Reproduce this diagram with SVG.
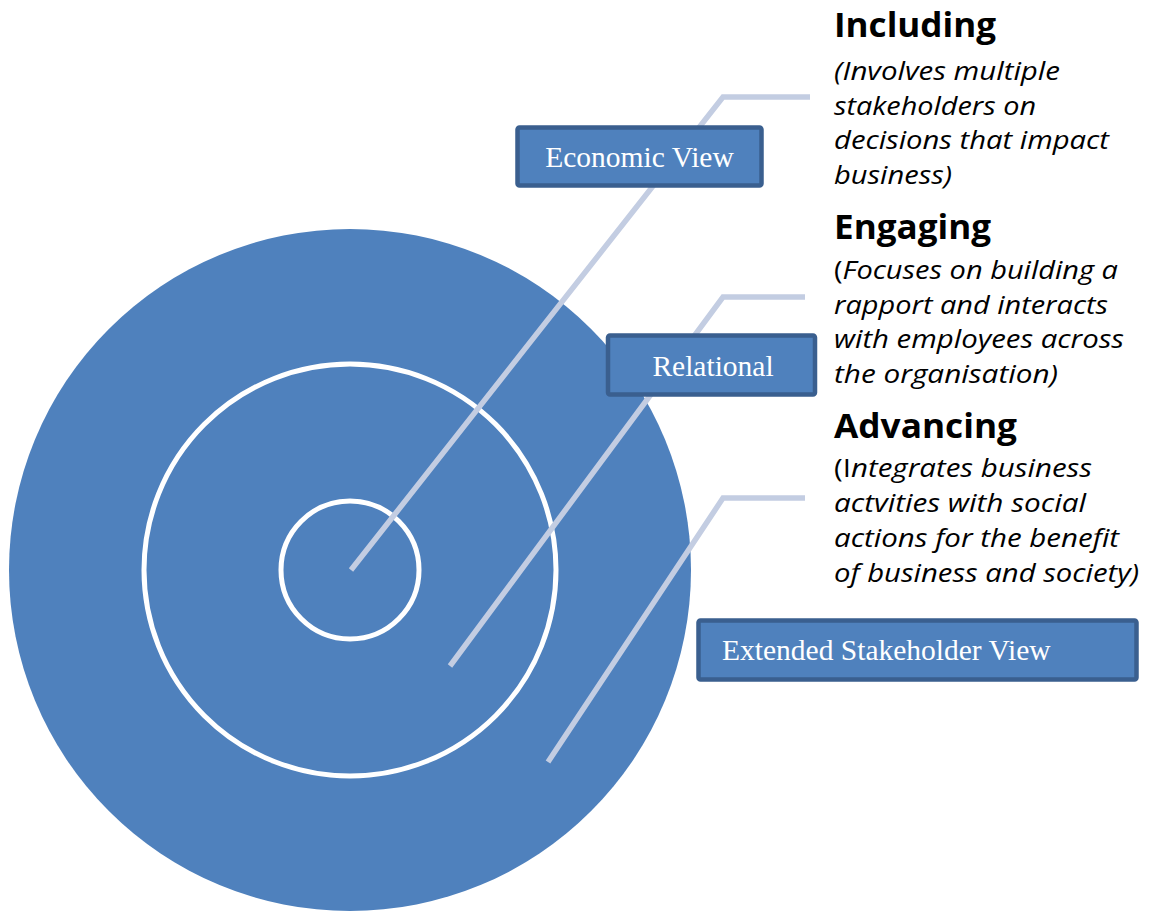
<svg xmlns="http://www.w3.org/2000/svg" width="1153" height="912" viewBox="0 0 1153 912">
<style>
.ring{fill:none;stroke:#ffffff;stroke-width:5}
.conn{fill:none;stroke:#c3cde2;stroke-width:5.5;stroke-linejoin:miter}
.box{fill:#4f81bd;stroke:#3a5f8f;stroke-width:4.5}
.blab{font-family:"Liberation Serif",serif;font-size:29.5px;fill:#ffffff}
.head{font-family:"Open Sans","Noto Sans",sans-serif;font-weight:bold;font-size:34px;fill:#000000}
.desc{font-family:"Open Sans","Noto Sans",sans-serif;font-style:italic;font-size:26px;fill:#000000}
.up{font-style:normal}
</style>
<g id="circles">
<circle cx="350" cy="570" r="341" fill="#4f81bd"/>
<circle class="ring" cx="350" cy="570" r="206"/>
<circle class="ring" cx="350" cy="570" r="69"/>
</g>
<g id="connectors">
<polyline class="conn" points="351,570 723,97 810,97"/>
<polyline class="conn" points="450,666 723,297 805,297"/>
<polyline class="conn" points="548,762 723,498 805,498"/>
</g>
<g id="economic-view">
<rect class="box" x="517.5" y="127.5" width="244" height="58" rx="2"/>
<text class="blab" x="639.5" y="167" text-anchor="middle">Economic View</text>
</g>
<g id="relational">
<rect class="box" x="608" y="335.5" width="207" height="59" rx="2"/>
<text class="blab" x="713" y="376" text-anchor="middle">Relational</text>
</g>
<g id="extended-stakeholder-view">
<rect class="box" x="698.5" y="620.5" width="438" height="59" rx="2"/>
<text class="blab" x="722" y="660">Extended Stakeholder View</text>
</g>
<g id="including">
<text class="head" x="834" y="37" textLength="162" lengthAdjust="spacingAndGlyphs">Including</text>
<text class="desc" x="834" y="80" textLength="226" lengthAdjust="spacingAndGlyphs">(Involves multiple</text>
<text class="desc" x="834" y="115" textLength="202" lengthAdjust="spacingAndGlyphs">stakeholders on</text>
<text class="desc" x="834" y="149" textLength="275" lengthAdjust="spacingAndGlyphs">decisions that impact</text>
<text class="desc" x="834" y="184" textLength="118" lengthAdjust="spacingAndGlyphs">business)</text>
</g>
<g id="engaging">
<text class="head" x="834" y="239" textLength="157" lengthAdjust="spacingAndGlyphs">Engaging</text>
<text class="desc" x="834" y="279" textLength="284" lengthAdjust="spacingAndGlyphs"><tspan class="up">(</tspan>Focuses on building a</text>
<text class="desc" x="834" y="314" textLength="274" lengthAdjust="spacingAndGlyphs">rapport and interacts</text>
<text class="desc" x="834" y="348" textLength="290" lengthAdjust="spacingAndGlyphs">with employees across</text>
<text class="desc" x="834" y="383" textLength="224" lengthAdjust="spacingAndGlyphs">the organisation)</text>
</g>
<g id="advancing">
<text class="head" x="834" y="438" textLength="183" lengthAdjust="spacingAndGlyphs">Advancing</text>
<text class="desc" x="834" y="477" textLength="258" lengthAdjust="spacingAndGlyphs"><tspan class="up">(I</tspan>ntegrates business</text>
<text class="desc" x="834" y="512" textLength="252" lengthAdjust="spacingAndGlyphs">actvities with social</text>
<text class="desc" x="834" y="547" textLength="285" lengthAdjust="spacingAndGlyphs">actions for the benefit</text>
<text class="desc" x="834" y="582" textLength="305" lengthAdjust="spacingAndGlyphs">of business and society)</text>
</g>
</svg>
